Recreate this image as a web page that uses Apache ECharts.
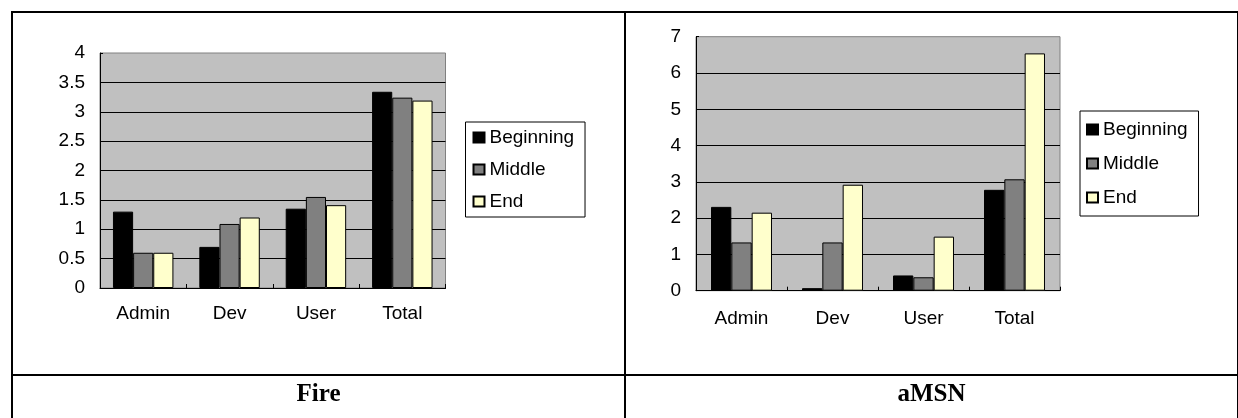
<!DOCTYPE html>
<html>
<head>
<meta charset="utf-8">
<script src="https://cdn.jsdelivr.net/npm/echarts@6/dist/echarts.min.js"></script>
<style>
  html, body { margin: 0; padding: 0; background: #fff; width: 1238px; height: 418px; overflow: hidden; }
  #chart { position: absolute; left: 0; top: 0; width: 1238px; height: 418px; }
  .ln { position: absolute; background: #000; z-index: 5; }
  .cap { position: absolute; top: 376px; height: 34px; line-height: 34px; text-align: center;
         font-family: "Liberation Serif", "Times New Roman", serif; font-weight: bold; font-size: 25px; color: #000; z-index: 5; }
</style>
</head>
<body>
<div id="chart"></div>
<div class="ln" style="left:11px;top:11px;width:1227px;height:2px;"></div>
<div class="ln" style="left:11px;top:11px;width:2px;height:407px;"></div>
<div class="ln" style="left:624px;top:11px;width:2px;height:407px;"></div>
<div class="ln" style="left:1237px;top:11px;width:2px;height:407px;"></div>
<div class="ln" style="left:11px;top:374px;width:1227px;height:2px;"></div>
<div class="cap" style="left:13px;width:611px;">Fire</div>
<div class="cap" style="left:626px;width:611px;">aMSN</div>
<script>
// ---- data ----
const categories = ['Admin', 'Dev', 'User', 'Total'];
const seriesNames = ['Beginning', 'Middle', 'End'];
const fireBeginning = [1.3, 0.7, 1.35, 3.34];
const fireMiddle    = [0.6, 1.09, 1.55, 3.24];
const fireEnd       = [0.6, 1.2, 1.41, 3.19];
const amsnBeginning = [2.31, 0.07, 0.42, 2.78];
const amsnMiddle    = [1.33, 1.33, 0.37, 3.07];
const amsnEnd       = [2.15, 2.92, 1.49, 6.54];
const fireTicks = { min: 0, max: 4, interval: 0.5 };
const amsnTicks = { min: 0, max: 7, interval: 1 };

const FONT = '"Liberation Sans", Arial, sans-serif';
const FS = 19;
const colors = ['#000000', '#808080', '#FFFFCC'];

function xAxis(gridIndex, margin) {
  return {
    type: 'category', gridIndex: gridIndex, data: categories,
    axisLine: { show: true, lineStyle: { color: '#000', width: 1 } },
    axisTick: { show: true, inside: true, length: 4, alignWithLabel: false, lineStyle: { color: '#000' } },
    axisLabel: { show: true, margin: margin, color: '#000', fontSize: FS, fontFamily: FONT },
    splitLine: { show: false }
  };
}
function yAxis(gridIndex, t) {
  return {
    type: 'value', gridIndex: gridIndex, min: t.min, max: t.max, interval: t.interval,
    axisLine: { show: true, lineStyle: { color: '#000', width: 1 } },
    axisTick: { show: true, inside: true, length: 3, lineStyle: { color: '#000' } },
    axisLabel: { show: true, margin: 15, color: '#000', fontSize: FS, fontFamily: FONT },
    splitLine: { show: true, showMaxLine: false, lineStyle: { color: '#000', width: 1 } }
  };
}
function bar(name, data, idx, axisIdx, gap) {
  return {
    type: 'bar', name: name, data: data, xAxisIndex: axisIdx, yAxisIndex: axisIdx,
    barGap: '0%', barCategoryGap: gap,
    itemStyle: { color: colors[idx], borderColor: '#000', borderWidth: 1 },
    emphasis: { disabled: true }
  };
}
function legend(left, top, padding, itemGap) {
  return {
    orient: 'vertical', left: left, top: top, padding: padding, itemGap: itemGap,
    itemWidth: 11, itemHeight: 10, icon: 'rect',
    borderColor: '#000', borderWidth: 1, borderRadius: 0, backgroundColor: '#fff',
    textStyle: { fontSize: FS, lineHeight: FS, color: '#000', fontFamily: FONT },
    data: seriesNames, selectedMode: false
  };
}

const chart = echarts.init(document.getElementById('chart'), null, { renderer: 'canvas' });
chart.setOption({
  animation: false,
  backgroundColor: '#fff',
  textStyle: { fontFamily: FONT },
  grid: [
    { left: 100, top: 53, width: 345.5, height: 235, show: true, backgroundColor: '#C0C0C0', borderColor: '#808080', borderWidth: 1, containLabel: false, outerBoundsMode: 'none' },
    { left: 696, top: 36.7, width: 364, height: 254, show: true, backgroundColor: '#C0C0C0', borderColor: '#808080', borderWidth: 1, containLabel: false, outerBoundsMode: 'none' }
  ],
  xAxis: [xAxis(0, 16), xAxis(1, 19)],
  yAxis: [yAxis(0, fireTicks), yAxis(1, amsnTicks)],
  legend: [
    legend(465.5, 122, [6, 11, 6, 7], 13),
    legend(1080, 111, [9, 11, 9, 6], 15)
  ],
  series: [
    bar(seriesNames[0], fireBeginning, 0, 0, '30%'),
    bar(seriesNames[1], fireMiddle, 1, 0, '30%'),
    bar(seriesNames[2], fireEnd, 2, 0, '30%'),
    bar(seriesNames[0], amsnBeginning, 0, 1, '33%'),
    bar(seriesNames[1], amsnMiddle, 1, 1, '33%'),
    bar(seriesNames[2], amsnEnd, 2, 1, '33%')
  ]
});
</script>
</body>
</html>
